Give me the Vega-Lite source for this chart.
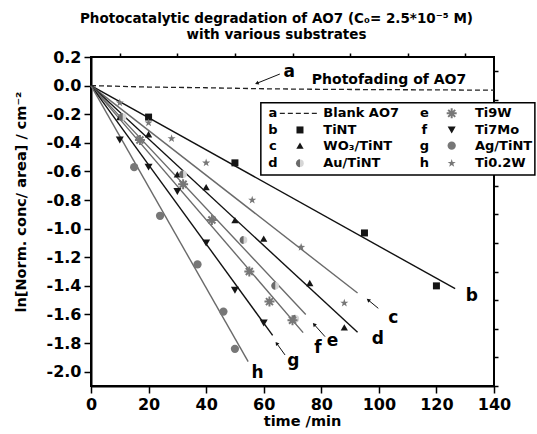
{
"$schema": "https://vega.github.io/schema/vega-lite/v6.json",
"width": 403,
"height": 329,
"autosize": {"type": "none"},
"padding": {"left": 91, "top": 57, "right": 43, "bottom": 48},
"background": "white",
"config": {
  "view": {"stroke": "black", "strokeWidth": 2},
  "font": "DejaVu Sans",
  "text": {"font": "DejaVu Sans", "fontWeight": "bold", "color": "black"}
},
"title": {
  "text": ["Photocatalytic degradation of AO7 (C₀= 2.5*10⁻⁵ M)", "with various substrates"],
  "font": "DejaVu Sans", "fontSize": 13.5, "fontWeight": "bold", "color": "black",
  "anchor": "middle", "dx": -16, "offset": 8, "lineHeight": 16
},
"datasets": {
  "fits": [
    {"series": "TiNT", "t": 0, "v": 0}, {"series": "TiNT", "t": 126.5, "v": -1.42},
    {"series": "Ti0.2W", "t": 0, "v": 0}, {"series": "Ti0.2W", "t": 92.6, "v": -1.45},
    {"series": "WO₃/TiNT", "t": 0, "v": 0}, {"series": "WO₃/TiNT", "t": 92.6, "v": -1.725},
    {"series": "Au/TiNT", "t": 0, "v": 0}, {"series": "Au/TiNT", "t": 74.6, "v": -1.6},
    {"series": "Ti9W", "t": 0, "v": 0}, {"series": "Ti9W", "t": 73.7, "v": -1.727},
    {"series": "Ti7Mo", "t": 0, "v": 0}, {"series": "Ti7Mo", "t": 63.1, "v": -1.746},
    {"series": "Ag/TiNT", "t": 0, "v": 0}, {"series": "Ag/TiNT", "t": 54.6, "v": -1.93}
  ],
  "blank": [
    {"t": 0, "v": 0}, {"t": 20, "v": -0.01}, {"t": 40, "v": -0.015}, {"t": 60, "v": -0.022},
    {"t": 80, "v": -0.026}, {"t": 100, "v": -0.028}, {"t": 120, "v": -0.03}, {"t": 140, "v": -0.032}
  ],
  "obs": [
    {"series": "TiNT", "t": 20, "v": -0.22}, {"series": "TiNT", "t": 50, "v": -0.54},
    {"series": "TiNT", "t": 95, "v": -1.03}, {"series": "TiNT", "t": 120, "v": -1.4},
    {"series": "Ti0.2W", "t": 10, "v": -0.12}, {"series": "Ti0.2W", "t": 20, "v": -0.26},
    {"series": "Ti0.2W", "t": 28, "v": -0.37}, {"series": "Ti0.2W", "t": 40, "v": -0.54},
    {"series": "Ti0.2W", "t": 56, "v": -0.8}, {"series": "Ti0.2W", "t": 73, "v": -1.13},
    {"series": "Ti0.2W", "t": 88, "v": -1.52},
    {"series": "WO₃/TiNT", "t": 10, "v": -0.22}, {"series": "WO₃/TiNT", "t": 20, "v": -0.34},
    {"series": "WO₃/TiNT", "t": 30, "v": -0.62}, {"series": "WO₃/TiNT", "t": 40, "v": -0.71},
    {"series": "WO₃/TiNT", "t": 50, "v": -0.94}, {"series": "WO₃/TiNT", "t": 60, "v": -1.07},
    {"series": "WO₃/TiNT", "t": 76, "v": -1.38}, {"series": "WO₃/TiNT", "t": 88, "v": -1.69},
    {"series": "Ti7Mo", "t": 10, "v": -0.38}, {"series": "Ti7Mo", "t": 20, "v": -0.57},
    {"series": "Ti7Mo", "t": 30, "v": -0.74}, {"series": "Ti7Mo", "t": 40, "v": -1.1},
    {"series": "Ti7Mo", "t": 50, "v": -1.43}, {"series": "Ti7Mo", "t": 60, "v": -1.66},
    {"series": "Ti9W", "t": 17, "v": -0.38}, {"series": "Ti9W", "t": 32, "v": -0.69},
    {"series": "Ti9W", "t": 42, "v": -0.94}, {"series": "Ti9W", "t": 55, "v": -1.3},
    {"series": "Ti9W", "t": 62, "v": -1.51}, {"series": "Ti9W", "t": 70, "v": -1.64},
    {"series": "Au/TiNT", "t": 11, "v": -0.22}, {"series": "Au/TiNT", "t": 32, "v": -0.62},
    {"series": "Au/TiNT", "t": 53, "v": -1.08}, {"series": "Au/TiNT", "t": 64, "v": -1.4},
    {"series": "Au/TiNT", "t": 71, "v": -1.63},
    {"series": "Ag/TiNT", "t": 15, "v": -0.57}, {"series": "Ag/TiNT", "t": 24, "v": -0.91},
    {"series": "Ag/TiNT", "t": 37, "v": -1.25}, {"series": "Ag/TiNT", "t": 46, "v": -1.58},
    {"series": "Ag/TiNT", "t": 50, "v": -1.84}
  ],
  "legend": [
    {"series": "Blank AO7", "letter": "a", "lx": 63.2, "sx": 72.6, "nx": 80.7, "ly": -0.194},
    {"series": "TiNT", "letter": "b", "lx": 63.2, "sx": 72.6, "nx": 80.7, "ly": -0.31},
    {"series": "WO₃/TiNT", "letter": "c", "lx": 63.2, "sx": 72.6, "nx": 80.7, "ly": -0.42},
    {"series": "Au/TiNT", "letter": "d", "lx": 63.2, "sx": 72.6, "nx": 80.7, "ly": -0.543},
    {"series": "Ti9W", "letter": "e", "lx": 115.8, "sx": 125.3, "nx": 133.4, "ly": -0.194},
    {"series": "Ti7Mo", "letter": "f", "lx": 115.8, "sx": 125.3, "nx": 133.4, "ly": -0.31},
    {"series": "Ag/TiNT", "letter": "g", "lx": 115.8, "sx": 125.3, "nx": 133.4, "ly": -0.42},
    {"series": "Ti0.2W", "letter": "h", "lx": 115.8, "sx": 125.3, "nx": 133.4, "ly": -0.543}
  ],
  "legendbox": [{"t": 59.0, "t2": 154.2, "v": -0.119, "v2": -0.625}],
  "legendline": [{"t": 65.6, "t2": 79.5, "v": -0.194}],
  "labels": [
    {"label": "a", "t": 68.9, "v": 0.097}, {"label": "b", "t": 132.3, "v": -1.469},
    {"label": "c", "t": 105.0, "v": -1.623}, {"label": "d", "t": 99.6, "v": -1.771},
    {"label": "e", "t": 83.9, "v": -1.785}, {"label": "f", "t": 78.8, "v": -1.834},
    {"label": "g", "t": 70.3, "v": -1.925}, {"label": "h", "t": 57.9, "v": -2.007}
  ],
  "arrows": [
    {"t": 65.6, "v": 0.081, "t2": 57.6, "v2": 0.016},
    {"t": 99.8, "v": -1.557, "t2": 96.3, "v2": -1.499},
    {"t": 81.3, "v": -1.755, "t2": 77.5, "v2": -1.669},
    {"t": 67.4, "v": -1.883, "t2": 64.5, "v2": -1.802}
  ],
  "notes": [{"text": "Photofading of AO7", "t": 76.7, "v": 0.039}]
},
"layer": [
  {
    "data": {"name": "fits"},
    "mark": {"type": "line", "strokeWidth": 1.4},
    "encoding": {
      "x": {"field": "t", "type": "quantitative", "scale": {"domain": [0, 140], "nice": false, "zero": false},
        "axis": {"values": [0, 20, 40, 60, 80, 100, 120, 140], "grid": false, "labelFont": "DejaVu Sans", "labelFontSize": 16, "labelFontWeight": "bold", "labelColor": "black", "labelPadding": 3, "labelFlush": false, "labelOverlap": false, "tickSize": 7, "tickWidth": 1.5, "tickColor": "black", "domainColor": "black", "domainWidth": 2, "title": "time /min", "titleFont": "DejaVu Sans", "titleFontSize": 14.5, "titleFontWeight": "bold", "titleColor": "black", "titleX": 211, "titleY": 35, "titleBaseline": "middle"}},
      "y": {"field": "v", "type": "quantitative", "scale": {"domain": [-2.1, 0.2], "nice": false, "zero": false},
        "axis": {"values": [-2, -1.8, -1.6, -1.4, -1.2, -1, -0.8, -0.6, -0.4, -0.2, 0, 0.2], "labelExpr": "replace(format(datum.value, '.1f'), '−', '-')", "grid": false, "labelFont": "DejaVu Sans", "labelFontSize": 16, "labelFontWeight": "bold", "labelColor": "black", "labelPadding": 3, "labelFlush": false, "labelOverlap": false, "tickSize": 7, "tickWidth": 1.5, "tickColor": "black", "domainColor": "black", "domainWidth": 2, "title": "ln[Norm. conc/ area] / cm⁻²", "titleFont": "DejaVu Sans", "titleFontSize": 14.5, "titleFontWeight": "bold", "titleColor": "black", "titleX": -70, "titleY": 144.5, "titleBaseline": "middle"}},
      "detail": {"field": "series"},
      "stroke": {"field": "series", "type": "nominal", "legend": null,
        "scale": {"domain": ["TiNT", "WO₃/TiNT", "Au/TiNT", "Ti9W", "Ti7Mo", "Ag/TiNT", "Ti0.2W"],
                  "range": ["#111111", "#111111", "#6a6a6a", "#6a6a6a", "#111111", "#6a6a6a", "#6a6a6a"]}}
    }
  },
  {
    "data": {"name": "blank"},
    "mark": {"type": "line", "strokeDash": [5, 3], "strokeWidth": 1.3, "color": "#222222"},
    "encoding": {
      "x": {"field": "t", "type": "quantitative", "scale": {"domain": [0, 140], "nice": false, "zero": false},
        "axis": {"values": [10, 30, 50, 70, 90, 110, 130], "labels": false, "domain": false, "grid": false, "tickSize": 4, "tickWidth": 1.5, "tickColor": "black", "title": null}},
      "y": {"field": "v", "type": "quantitative", "scale": {"domain": [-2.1, 0.2], "nice": false, "zero": false},
        "axis": {"values": [-2.1, -1.9, -1.7, -1.5, -1.3, -1.1, -0.9, -0.7, -0.5, -0.3, -0.1, 0.1], "labels": false, "domain": false, "grid": false, "tickSize": 4, "tickWidth": 1.5, "tickColor": "black", "title": null}}
    }
  },
  {
    "data": {"name": "obs"},
    "transform": [{"filter": "datum.series !== 'Ti9W'"}],
    "mark": {"type": "point", "filled": true, "opacity": 1},
    "encoding": {
      "x": {"field": "t", "type": "quantitative", "scale": {"domain": [0, 140], "nice": false, "zero": false}, "axis": null},
      "y": {"field": "v", "type": "quantitative", "scale": {"domain": [-2.1, 0.2], "nice": false, "zero": false}, "axis": null},
      "shape": {"field": "series", "type": "nominal", "legend": null,
        "scale": {"domain": ["TiNT", "WO₃/TiNT", "Au/TiNT", "Ti9W", "Ti7Mo", "Ag/TiNT", "Ti0.2W"],
                  "range": ["square", "triangle-up", "circle", "M-1,0L1,0M0,-1L0,1M-0.7,-0.7L0.7,0.7M-0.7,0.7L0.7,-0.7", "triangle-down", "circle", "M0,-1L0.235,-0.324L0.951,-0.309L0.38,0.124L0.588,0.809L0,0.4L-0.588,0.809L-0.38,0.124L-0.951,-0.309L-0.235,-0.324Z"]}},
      "fill": {"field": "series", "type": "nominal", "legend": null,
        "scale": {"domain": ["TiNT", "WO₃/TiNT", "Au/TiNT", "Ti9W", "Ti7Mo", "Ag/TiNT", "Ti0.2W"],
                  "range": ["#151515", "#151515", "#d6d6d6", "#777777", "#151515", "#777777", "#777777"]}},
      "size": {"field": "series", "type": "nominal", "legend": null,
        "scale": {"domain": ["TiNT", "WO₃/TiNT", "Au/TiNT", "Ti9W", "Ti7Mo", "Ag/TiNT", "Ti0.2W"],
                  "range": [49, 72, 64, 100, 72, 64, 150]}}
    }
  },
  {
    "data": {"name": "obs"},
    "transform": [{"filter": "datum.series === 'Au/TiNT'"}],
    "mark": {"type": "point", "filled": true, "opacity": 1, "shape": "M0,-1A1,1,0,0,0,0,1Z", "size": 64, "color": "#6a6a6a"},
    "encoding": {
      "x": {"field": "t", "type": "quantitative", "scale": {"domain": [0, 140], "nice": false, "zero": false}, "axis": null},
      "y": {"field": "v", "type": "quantitative", "scale": {"domain": [-2.1, 0.2], "nice": false, "zero": false}, "axis": null}
    }
  },
  {
    "data": {"name": "obs"},
    "transform": [{"filter": "datum.series === 'Ti9W'"}],
    "mark": {"type": "point", "filled": false, "opacity": 1, "shape": "M-1,0L1,0M0,-1L0,1M-0.7,-0.7L0.7,0.7M-0.7,0.7L0.7,-0.7", "size": 100, "color": "#777777", "strokeWidth": 2},
    "encoding": {
      "x": {"field": "t", "type": "quantitative", "scale": {"domain": [0, 140], "nice": false, "zero": false}, "axis": null},
      "y": {"field": "v", "type": "quantitative", "scale": {"domain": [-2.1, 0.2], "nice": false, "zero": false}, "axis": null}
    }
  },
  {
    "data": {"name": "legendbox"},
    "mark": {"type": "rect", "fill": "white", "stroke": "black", "strokeWidth": 1.5},
    "encoding": {
      "x": {"field": "t", "type": "quantitative", "scale": {"domain": [0, 140], "nice": false, "zero": false}, "axis": null},
      "x2": {"field": "t2"},
      "y": {"field": "v", "type": "quantitative", "scale": {"domain": [-2.1, 0.2], "nice": false, "zero": false}, "axis": null},
      "y2": {"field": "v2"}
    }
  },
  {
    "data": {"name": "legendline"},
    "mark": {"type": "rule", "strokeDash": [5, 3], "strokeWidth": 1.3, "color": "#222222"},
    "encoding": {
      "x": {"field": "t", "type": "quantitative", "scale": {"domain": [0, 140], "nice": false, "zero": false}, "axis": null},
      "x2": {"field": "t2"},
      "y": {"field": "v", "type": "quantitative", "scale": {"domain": [-2.1, 0.2], "nice": false, "zero": false}, "axis": null}
    }
  },
  {
    "data": {"name": "legend"},
    "transform": [{"filter": "datum.series !== 'Blank AO7' && datum.series !== 'Ti9W'"}],
    "mark": {"type": "point", "filled": true, "opacity": 1},
    "encoding": {
      "x": {"field": "sx", "type": "quantitative", "scale": {"domain": [0, 140], "nice": false, "zero": false}, "axis": null},
      "y": {"field": "ly", "type": "quantitative", "scale": {"domain": [-2.1, 0.2], "nice": false, "zero": false}, "axis": null},
      "shape": {"field": "series", "type": "nominal", "legend": null},
      "fill": {"field": "series", "type": "nominal", "legend": null},
      "size": {"field": "series", "type": "nominal", "legend": null}
    }
  },
  {
    "data": {"name": "legend"},
    "transform": [{"filter": "datum.series === 'Au/TiNT'"}],
    "mark": {"type": "point", "filled": true, "opacity": 1, "shape": "M0,-1A1,1,0,0,0,0,1Z", "size": 64, "color": "#6a6a6a"},
    "encoding": {
      "x": {"field": "sx", "type": "quantitative", "scale": {"domain": [0, 140], "nice": false, "zero": false}, "axis": null},
      "y": {"field": "ly", "type": "quantitative", "scale": {"domain": [-2.1, 0.2], "nice": false, "zero": false}, "axis": null}
    }
  },
  {
    "data": {"name": "legend"},
    "transform": [{"filter": "datum.series === 'Ti9W'"}],
    "mark": {"type": "point", "filled": false, "opacity": 1, "shape": "M-1,0L1,0M0,-1L0,1M-0.7,-0.7L0.7,0.7M-0.7,0.7L0.7,-0.7", "size": 100, "color": "#777777", "strokeWidth": 2},
    "encoding": {
      "x": {"field": "sx", "type": "quantitative", "scale": {"domain": [0, 140], "nice": false, "zero": false}, "axis": null},
      "y": {"field": "ly", "type": "quantitative", "scale": {"domain": [-2.1, 0.2], "nice": false, "zero": false}, "axis": null}
    }
  },
  {
    "data": {"name": "legend"},
    "mark": {"type": "text", "fontSize": 13, "align": "center", "baseline": "middle"},
    "encoding": {
      "x": {"field": "lx", "type": "quantitative", "scale": {"domain": [0, 140], "nice": false, "zero": false}, "axis": null},
      "y": {"field": "ly", "type": "quantitative", "scale": {"domain": [-2.1, 0.2], "nice": false, "zero": false}, "axis": null},
      "text": {"field": "letter"}
    }
  },
  {
    "data": {"name": "legend"},
    "mark": {"type": "text", "fontSize": 13, "align": "left", "baseline": "middle"},
    "encoding": {
      "x": {"field": "nx", "type": "quantitative", "scale": {"domain": [0, 140], "nice": false, "zero": false}, "axis": null},
      "y": {"field": "ly", "type": "quantitative", "scale": {"domain": [-2.1, 0.2], "nice": false, "zero": false}, "axis": null},
      "text": {"field": "series"}
    }
  },
  {
    "data": {"name": "labels"},
    "mark": {"type": "text", "fontSize": 17, "align": "center", "baseline": "middle"},
    "encoding": {
      "x": {"field": "t", "type": "quantitative", "scale": {"domain": [0, 140], "nice": false, "zero": false}, "axis": null},
      "y": {"field": "v", "type": "quantitative", "scale": {"domain": [-2.1, 0.2], "nice": false, "zero": false}, "axis": null},
      "text": {"field": "label"}
    }
  },
  {
    "data": {"name": "arrows"},
    "mark": {"type": "rule", "strokeWidth": 1, "color": "#111111"},
    "encoding": {
      "x": {"field": "t", "type": "quantitative", "scale": {"domain": [0, 140], "nice": false, "zero": false}, "axis": null},
      "x2": {"field": "t2"},
      "y": {"field": "v", "type": "quantitative", "scale": {"domain": [-2.1, 0.2], "nice": false, "zero": false}, "axis": null},
      "y2": {"field": "v2"}
    }
  },
  {
    "data": {"name": "arrows"},
    "mark": {"type": "point", "shape": "triangle-up", "filled": true, "opacity": 1, "size": 18, "color": "#111111",
      "angle": {"expr": "atan2(scale('x', datum.t2) - scale('x', datum.t), scale('y', datum.v) - scale('y', datum.v2)) * 180 / PI"}},
    "encoding": {
      "x": {"field": "t2", "type": "quantitative", "scale": {"domain": [0, 140], "nice": false, "zero": false}, "axis": null},
      "y": {"field": "v2", "type": "quantitative", "scale": {"domain": [-2.1, 0.2], "nice": false, "zero": false}, "axis": null}
    }
  },
  {
    "data": {"name": "notes"},
    "mark": {"type": "text", "fontSize": 14, "align": "left", "baseline": "middle"},
    "encoding": {
      "x": {"field": "t", "type": "quantitative", "scale": {"domain": [0, 140], "nice": false, "zero": false}, "axis": null},
      "y": {"field": "v", "type": "quantitative", "scale": {"domain": [-2.1, 0.2], "nice": false, "zero": false}, "axis": null},
      "text": {"field": "text"}
    }
  }
],
"resolve": {"axis": {"x": "independent", "y": "independent"}}
}
